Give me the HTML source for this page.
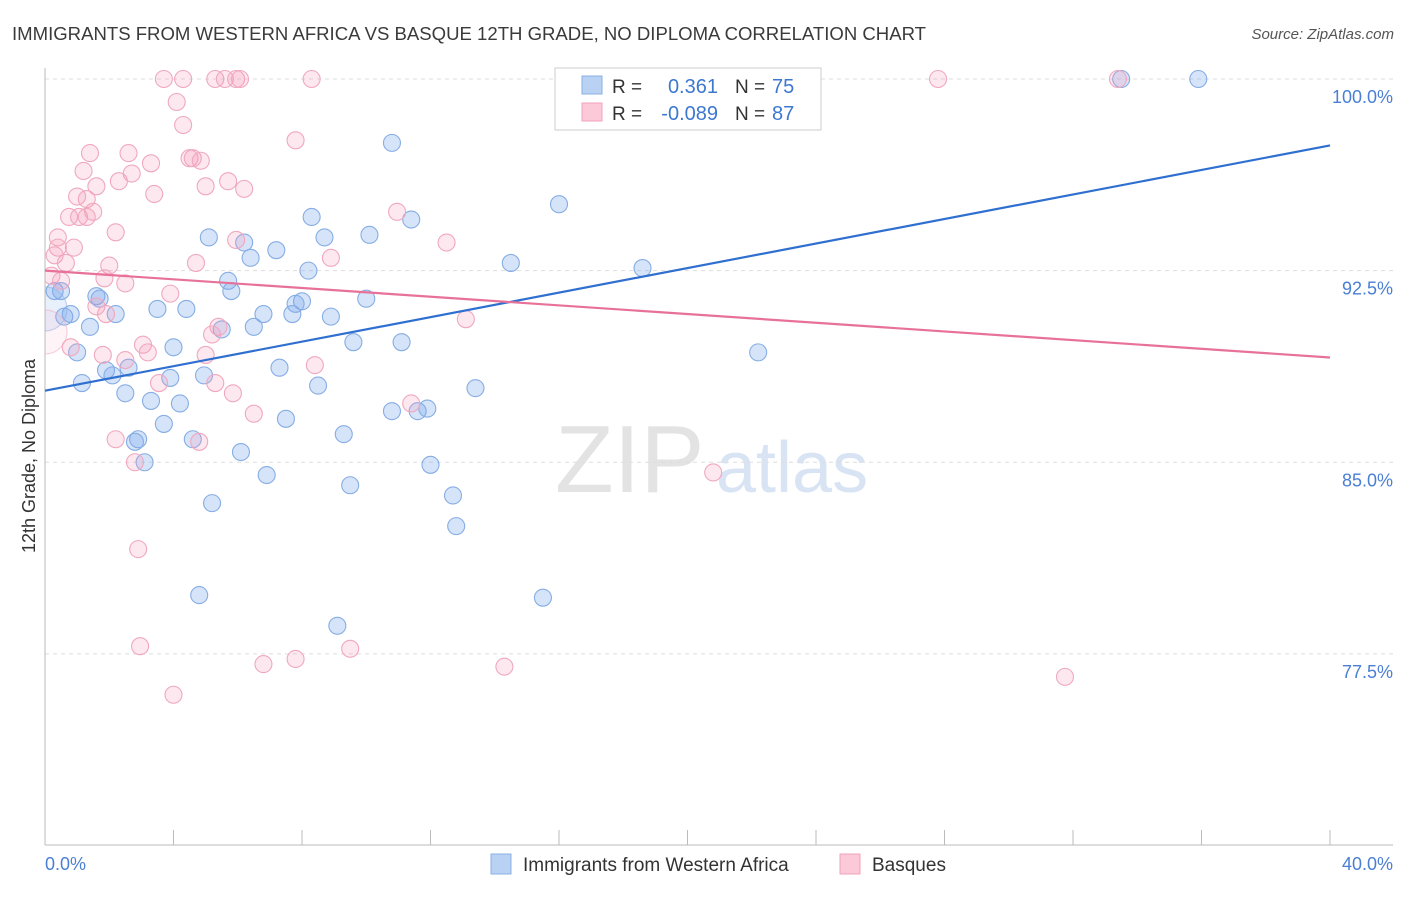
<!DOCTYPE html>
<html><head><meta charset="utf-8"><style>
body{margin:0;background:#fff;font-family:"Liberation Sans",sans-serif}
svg text{font-family:"Liberation Sans",sans-serif}
</style></head><body>
<svg id="chart" width="1406" height="892" viewBox="0 0 1406 892" xmlns="http://www.w3.org/2000/svg">
<defs><clipPath id="plotclip"><rect x="45" y="55" width="1360" height="790"/></clipPath></defs>
<text x="12" y="40" font-size="18" fill="#3a3a3a" textLength="914" lengthAdjust="spacingAndGlyphs">IMMIGRANTS FROM WESTERN AFRICA VS BASQUE 12TH GRADE, NO DIPLOMA CORRELATION CHART</text>
<text x="1394" y="39" font-size="15" fill="#555" font-style="italic" text-anchor="end">Source: ZipAtlas.com</text>
<text x="555" y="492" font-size="96" fill="#e3e3e3" font-family="Liberation Serif">ZIP</text>
<text x="716" y="492" font-size="72" fill="#d8e4f4">atlas</text>
<g id="grid"></g>
<g id="axes"></g>
<g id="pts" clip-path="url(#plotclip)"></g>
<g id="lines"></g>
<text transform="translate(35,456) rotate(-90)" font-size="18" fill="#333" text-anchor="middle">12th Grade, No Diploma</text>
<text x="45" y="870" font-size="18" fill="#4a7fd4">0.0%</text>
<text x="1393" y="870" font-size="18" fill="#4a7fd4" text-anchor="end">40.0%</text>
<g>
<rect x="555" y="68" width="266" height="62" fill="#fff" stroke="#ccc"/>
<rect x="582" y="76" width="20" height="18" fill="#b9d1f3" stroke="#8ab0e6"/>
<rect x="582" y="103" width="20" height="18" fill="#fcc9d8" stroke="#f0a3bb"/>
<text x="612" y="93" font-size="19" fill="#333">R =</text>
<text x="718" y="93" font-size="20" fill="#3d78d0" text-anchor="end">0.361</text>
<text x="735" y="93" font-size="19" fill="#333">N =</text><text x="772" y="93" font-size="20" fill="#3d78d0">75</text>
<text x="612" y="120" font-size="19" fill="#333">R =</text>
<text x="718" y="120" font-size="20" fill="#3d78d0" text-anchor="end">-0.089</text>
<text x="735" y="120" font-size="19" fill="#333">N =</text><text x="772" y="120" font-size="20" fill="#3d78d0">87</text>
</g>
<g>
<rect x="491" y="854" width="20" height="20" fill="#b9d1f3" stroke="#8ab0e6"/>
<text x="523" y="871" font-size="19" fill="#333">Immigrants from Western Africa</text>
<rect x="840" y="854" width="20" height="20" fill="#fcc9d8" stroke="#f0a3bb"/>
<text x="872" y="871" font-size="19" fill="#333">Basques</text>
</g>
</svg>
<script>
const yTicks=[100,92.5,85,77.5];
const yTickLabels=["100.0%","92.5%","85.0%","77.5%"];
const xTicks=[0,4,8,12,16,20,24,28,32,36,40];
const blueX=[16.65,19.4,33.5,35.9,10.8,16.0,8.3,11.4,5.1,8.7,10.1,6.2,7.2,6.4,14.5,18.6,8.2,5.7,5.8,0.3,0.5,1.6,1.7,10.0,8.0,7.8,3.5,4.4,6.8,7.7,8.9,0.6,0.8,2.2,1.4,6.5,5.5,9.6,11.1,4.0,22.2,1.0,7.3,1.9,2.6,2.1,4.95,3.9,1.15,8.5,13.4,2.5,3.3,4.2,10.8,11.6,11.9,7.5,3.7,9.3,2.9,2.8,4.6,6.1,3.1,12.0,6.9,9.5,12.7,5.2,12.8,15.5,4.8,9.1,0.0];
const blueY=[100,100,100,100,97.5,95.1,94.6,94.5,93.8,93.8,93.9,93.6,93.3,93.0,92.8,92.6,92.5,92.1,91.7,91.7,91.7,91.5,91.4,91.4,91.3,91.2,91.0,91.0,90.8,90.8,90.7,90.7,90.8,90.8,90.3,90.3,90.2,89.7,89.7,89.5,89.3,89.3,88.7,88.6,88.7,88.4,88.4,88.3,88.1,88.0,87.9,87.7,87.4,87.3,87.0,87.0,87.1,86.7,86.5,86.1,85.9,85.8,85.9,85.4,85.0,84.9,84.5,84.1,83.7,83.4,82.5,79.7,79.8,78.6,91.0];
const pinkX=[3.7,4.3,5.3,5.6,5.95,6.07,8.3,27.8,33.4,4.1,4.3,7.8,1.4,2.6,4.5,4.6,4.85,3.3,1.2,2.7,2.3,5.7,1.6,5.0,6.2,3.4,1.0,1.3,1.5,0.75,1.06,1.3,10.96,2.2,0.4,5.95,12.5,0.9,0.4,0.3,0.65,8.9,4.7,2.0,0.2,0.5,1.85,2.5,3.9,1.6,1.9,13.1,5.4,5.2,0.8,3.05,3.2,1.8,5.0,2.5,8.4,5.3,3.55,5.85,11.4,6.5,2.2,4.8,2.8,20.8,2.9,2.96,9.5,7.8,6.8,14.3,31.75,4.0,0.0];
const pinkY=[100,100,100,100,100,100,100,100,100,99.1,98.2,97.6,97.1,97.1,96.9,96.9,96.8,96.7,96.4,96.3,96.0,96.0,95.8,95.8,95.7,95.5,95.4,95.3,94.8,94.6,94.6,94.6,94.8,94.0,93.8,93.7,93.6,93.4,93.4,93.1,92.8,93.0,92.8,92.7,92.3,92.1,92.2,92.0,91.6,91.1,90.8,90.6,90.3,90.0,89.5,89.6,89.3,89.2,89.2,89.0,88.8,88.1,88.1,87.7,87.3,86.9,85.9,85.8,85.0,84.6,81.6,77.8,77.7,77.3,77.1,77.0,76.6,75.9,90.1];
const blueFit=[87.8,0.24];
const pinkFit=[92.5,-0.085];
const NS="http://www.w3.org/2000/svg";
const X=v=>45+v*32.125, Y=v=>79+(100-v)*25.55;
function mk(tag,at,parent){const e=document.createElementNS(NS,tag);for(const k in at)e.setAttribute(k,at[k]);parent.appendChild(e);return e;}
const grid=document.getElementById('grid'),axes=document.getElementById('axes'),pts=document.getElementById('pts'),lines=document.getElementById('lines');
yTicks.forEach((t,i)=>{
 const l=mk('line',{x1:45,x2:1393,y1:Y(t),y2:Y(t),stroke:'#ddd','stroke-dasharray':'4,4'},grid);
 
 
 const tx=mk('text',{x:1393,y:Y(t)+24,'font-size':18,fill:'#4a7fd4','text-anchor':'end'},grid);
 tx.textContent=yTickLabels[i];
 
 
});
const ax=mk('line',{x1:45,x2:45,y1:68,y2:845,stroke:'#bbb'},axes);


const bx=mk('line',{x1:45,x2:1393,y1:845,y2:845,stroke:'#bbb'},axes);


xTicks.forEach(t=>{
 const l=mk('line',{x1:X(t),x2:X(t),y1:830,y2:845,stroke:'#bbb'},axes);
 
 
});
function series(xs,ys,fill,stroke,name){
 xs.forEach((x,i)=>{
  const big=i===xs.length-1;
  const c=mk('circle',{cx:X(x),cy:Y(ys[i]),r:big?22:8.5,fill:fill,stroke:stroke,'stroke-width':1.1,opacity:big?0.55:1},pts);
  
  
 });
}
series(blueX,blueY,'rgba(120,165,235,0.3)','#86ade4','point-western-africa');
series(pinkX,pinkY,'rgba(245,150,180,0.22)','#f0a8be','point-basques');
function fit(f,col,name){
 const l=mk('line',{x1:X(0),y1:Y(f[0]),x2:X(40),y2:Y(f[0]+f[1]*40),stroke:col,'stroke-width':2.2},lines);
 
 
}
fit(blueFit,'#2f6fd0','trend-line-western-africa');
fit(pinkFit,'#e8719a','trend-line-basques');
</script>
</body></html>
